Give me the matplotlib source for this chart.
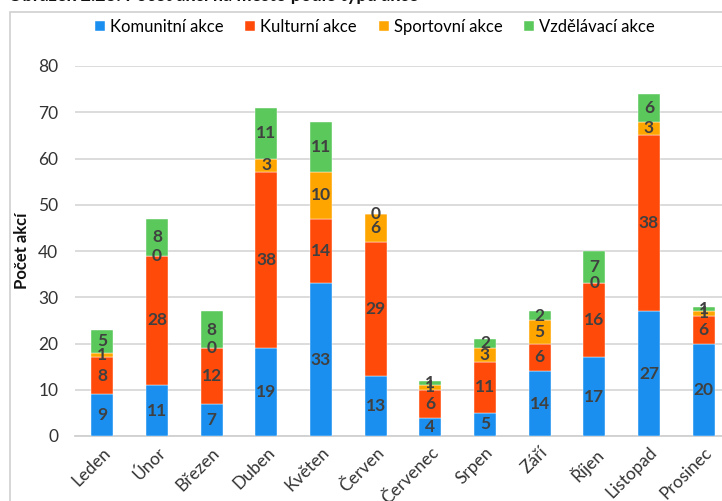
import matplotlib
matplotlib.use("Agg")
import matplotlib.pyplot as plt
from matplotlib.patches import Rectangle
import numpy as np

months = ["Leden", "Únor", "Březen", "Duben", "Květen", "Červen",
          "Červenec", "Srpen", "Září", "Říjen", "Listopad", "Prosinec"]
komunitni = [9, 11, 7, 19, 33, 13, 4, 5, 14, 17, 27, 20]
kulturni = [8, 28, 12, 38, 14, 29, 6, 11, 6, 16, 38, 6]
sportovni = [1, 0, 0, 3, 10, 6, 1, 3, 5, 0, 3, 1]
vzdelavaci = [5, 8, 8, 11, 11, 0, 1, 2, 2, 7, 6, 1]

series = [("Komunitní akce", komunitni, "#1a8fef"),
          ("Kulturní akce", kulturni, "#ff4a0a"),
          ("Sportovní akce", sportovni, "#ffa500"),
          ("Vzdělávací akce", vzdelavaci, "#5bc85b")]

plt.rcParams["font.family"] = ["Lato", "DejaVu Sans"]

W, H = 722, 501
fig = plt.figure(figsize=(W / 100, H / 100), dpi=100)

# outer chart frame (cut by the screenshot on right/bottom)
fig.patches.append(Rectangle((10 / W, -0.1), 1.2, 1 - 12 / H + 0.1,
                             transform=fig.transFigure, fill=False,
                             edgecolor="#d0d0d0", lw=1.2))

# cut-off caption at the very top
fig.text(8 / W, 1 - 0.5 / H, "Obrázek 2.23: Počet akcí na město podle typu akce",
         fontsize=13, fontweight="bold", va="baseline", ha="left", color="#111111")

ax = fig.add_axes([75 / W, (H - 436) / H, (731 - 75) / W, (436 - 66) / H])

x = np.arange(len(months))
bottom = np.zeros(len(months))
for name, vals, col in series:
    bars = ax.bar(x, vals, 0.4, bottom=bottom, color=col, label=name,
                  edgecolor="white", linewidth=0.3, zorder=3)
    ax.bar_label(bars, labels=[str(v) for v in vals], label_type="center",
                 fontsize=12.5, fontweight="bold", color="#404040", zorder=4)
    bottom += np.array(vals)

ax.set_xlim(-0.5, len(months) - 0.5)
ax.set_ylim(0, 80)
ax.set_yticks(range(0, 81, 10))
ax.yaxis.grid(True, color="#d9d9d9", lw=1.3, zorder=0)
ax.set_axisbelow(True)
for s in ["top", "right", "left"]:
    ax.spines[s].set_visible(False)
ax.spines["bottom"].set_color("#d0d0d0")
ax.spines["bottom"].set_linewidth(1.3)
ax.tick_params(axis="both", length=0, labelsize=12.5, colors="#333333")
ax.tick_params(axis="y", pad=12)
ax.set_xticks(x)
ax.set_xticklabels(months, rotation=45, ha="right", rotation_mode="anchor")
ax.tick_params(axis="x", pad=6)
ax.set_ylabel("Počet akcí", fontsize=12, fontweight="bold", color="#111111", labelpad=6)

ax.legend(loc="center", bbox_to_anchor=(375 / W, 1 - 27 / H), bbox_transform=fig.transFigure,
          ncol=4, frameon=False, fontsize=12, handlelength=0.6, handleheight=0.6,
          handletextpad=0.3, columnspacing=1.3)

fig.savefig("out.png", dpi=100)
